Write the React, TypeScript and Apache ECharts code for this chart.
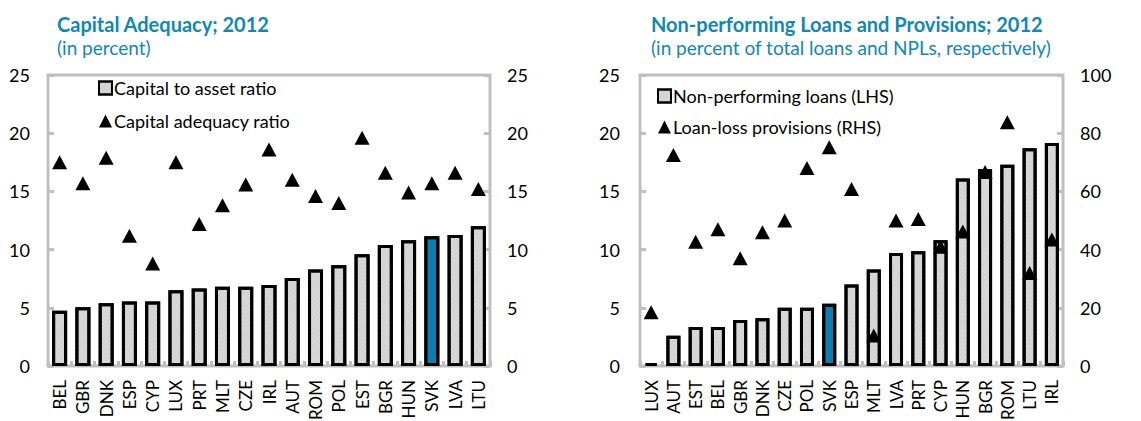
import React, { useEffect, useRef } from "react";
import * as echarts from "echarts";

const capCategories = ["BEL","GBR","DNK","ESP","CYP","LUX","PRT","MLT","CZE","IRL","AUT","ROM","POL","EST","BGR","HUN","SVK","LVA","LTU"];
const capToAsset = [4.75,5.05,5.4,5.55,5.55,6.5,6.65,6.8,6.8,6.95,7.55,8.3,8.65,9.6,10.4,10.8,11.15,11.25,12.0];
const capAdequacy = [17.5,15.7,17.9,11.2,8.8,17.5,12.2,13.8,15.6,18.6,16.0,14.6,14.0,19.6,16.6,14.9,15.7,16.6,15.2];

const nplCategories = ["LUX","AUT","EST","BEL","GBR","DNK","CZE","POL","SVK","ESP","MLT","LVA","PRT","CYP","HUN","BGR","ROM","LTU","IRL"];
const nplValues = [0.25,2.6,3.35,3.35,3.95,4.1,5.0,5.0,5.35,7.0,8.3,9.7,9.85,10.8,16.1,16.9,17.3,18.7,19.15];
const provisions = [18.5,72.5,42.7,47.0,37.0,46.0,50.0,68.0,75.2,60.8,10.5,50.0,50.5,41.0,46.2,66.7,83.8,32.0,43.5];

const leftTicks = [0, 25, 5];
const rightTicksNpl = [0, 100, 20];

const highlight = "SVK";
const FONT = "Lato";
const TITLE_COLOR = "#1187b6";
const FRAME = "#bfbfbf";
const BAR_FILL = "#d9d9d9";
const HIGHLIGHT_FILL = "#0a7fab";

export default function App() {
  const ref = useRef<HTMLDivElement>(null);
  useEffect(() => {
    document.body.style.margin = "0";
    document.body.style.overflow = "hidden";
    if (!ref.current) return;
    const chart = echarts.init(ref.current, null, { renderer: "svg", width: 1141, height: 421 });
    const decal = {
      symbol: "rect",
      symbolSize: 1,
      dashArrayX: [1, 0],
      dashArrayY: [1, 2],
      rotation: -Math.PI / 4,
      color: "rgba(0,0,0,0.05)",
    };
    const barData = (cats: string[], vals: number[]) =>
      vals.map((v, i) =>
        cats[i] === highlight
          ? { value: v, itemStyle: { color: HIGHLIGHT_FILL, decal: { symbol: "none" } } }
          : v
      );
    const yAx = (grid: number, pos: string, range: number[], margin: number) => ({
      type: "value",
      gridIndex: grid,
      position: pos,
      min: range[0],
      max: range[1],
      interval: range[2],
      axisLine: { show: false },
      axisTick: { show: true, inside: true, length: 6, lineStyle: { color: FRAME, width: 3 } },
      splitLine: { show: false },
      axisLabel: { margin, fontSize: 18, color: "#000", fontFamily: FONT },
    });
    const xAx = (grid: number, cats: string[]) => ({
      type: "category",
      gridIndex: grid,
      data: cats,
      axisLine: { show: false },
      axisTick: { show: true, inside: true, length: 5, lineStyle: { color: FRAME, width: 3 } },
      axisLabel: { rotate: 90, margin: 14, fontSize: 17, color: "#000", fontFamily: FONT, interval: 0 },
    });
    const gridStyle = {
      show: true,
      borderColor: FRAME,
      borderWidth: 3,
      backgroundColor: "transparent",
      containLabel: false,
      outerBoundsMode: "none",
    };
    const legendText = { fontSize: 18, color: "#000", fontFamily: FONT, padding: [0, 0, 0, -3] };
    chart.setOption({
      animation: false,
      backgroundColor: "#fff",
      textStyle: { fontFamily: FONT },
      title: [
        {
          text: "Capital Adequacy; 2012",
          subtext: "(in percent)",
          left: 52,
          top: 9,
          itemGap: 4,
          textStyle: { color: TITLE_COLOR, fontSize: 20, fontWeight: "bold", fontFamily: FONT },
          subtextStyle: { color: TITLE_COLOR, fontSize: 19, fontFamily: FONT },
        },
        {
          text: "Non-performing Loans and Provisions; 2012",
          subtext: "(in percent of total loans and NPLs, respectively)",
          left: 646,
          top: 9,
          itemGap: 4,
          textStyle: { color: TITLE_COLOR, fontSize: 20, fontWeight: "bold", fontFamily: FONT },
          subtextStyle: { color: TITLE_COLOR, fontSize: 19, fontFamily: FONT },
        },
      ],
      legend: [
        {
          data: [
            { name: "Capital to asset ratio", icon: "rect" },
            { name: "Capital adequacy ratio", icon: "triangle" },
          ],
          orient: "vertical",
          left: 93,
          top: 74,
          itemGap: 15,
          itemWidth: 13,
          itemHeight: 13,
          textStyle: legendText,
        },
        {
          data: [
            { name: "Non-performing loans (LHS)", icon: "rect" },
            { name: "Loan-loss provisions (RHS)", icon: "triangle" },
          ],
          orient: "vertical",
          left: 652,
          top: 82,
          itemGap: 13,
          itemWidth: 13,
          itemHeight: 13,
          textStyle: legendText,
        },
      ],
      grid: [
        { left: 48, top: 75, width: 442, height: 291, ...gridStyle },
        { left: 640, top: 75, width: 423, height: 291, ...gridStyle },
      ],
      xAxis: [xAx(0, capCategories), xAx(1, nplCategories)],
      yAxis: [
        yAx(0, "left", leftTicks, 18),
        yAx(0, "right", leftTicks, 17),
        yAx(1, "left", leftTicks, 20),
        yAx(1, "right", rightTicksNpl, 17),
      ],
      series: [
        {
          name: "Capital to asset ratio",
          type: "bar",
          xAxisIndex: 0,
          yAxisIndex: 0,
          barWidth: 15,
          data: barData(capCategories, capToAsset),
          itemStyle: { color: BAR_FILL, borderColor: "#000", borderWidth: 3, decal },
        },
        {
          name: "Capital adequacy ratio",
          type: "scatter",
          xAxisIndex: 0,
          yAxisIndex: 0,
          symbol: "triangle",
          symbolSize: [15, 14],
          data: capAdequacy,
          itemStyle: { color: "#000", opacity: 1 },
        },
        {
          name: "Non-performing loans (LHS)",
          type: "bar",
          xAxisIndex: 1,
          yAxisIndex: 2,
          barWidth: 14,
          data: barData(nplCategories, nplValues),
          itemStyle: { color: BAR_FILL, borderColor: "#000", borderWidth: 3, decal },
        },
        {
          name: "Loan-loss provisions (RHS)",
          type: "scatter",
          xAxisIndex: 1,
          yAxisIndex: 3,
          symbol: "triangle",
          symbolSize: [15, 14],
          data: provisions,
          itemStyle: { color: "#000", opacity: 1 },
          z: 5,
        },
      ],
    });
    return () => chart.dispose();
  }, []);
  return (
    <div style={{ width: 1141, height: 421, overflow: "hidden", position: "relative", background: "#fff" }}>
      <div ref={ref} style={{ width: 1141, height: 421 }} />
    </div>
  );
}
